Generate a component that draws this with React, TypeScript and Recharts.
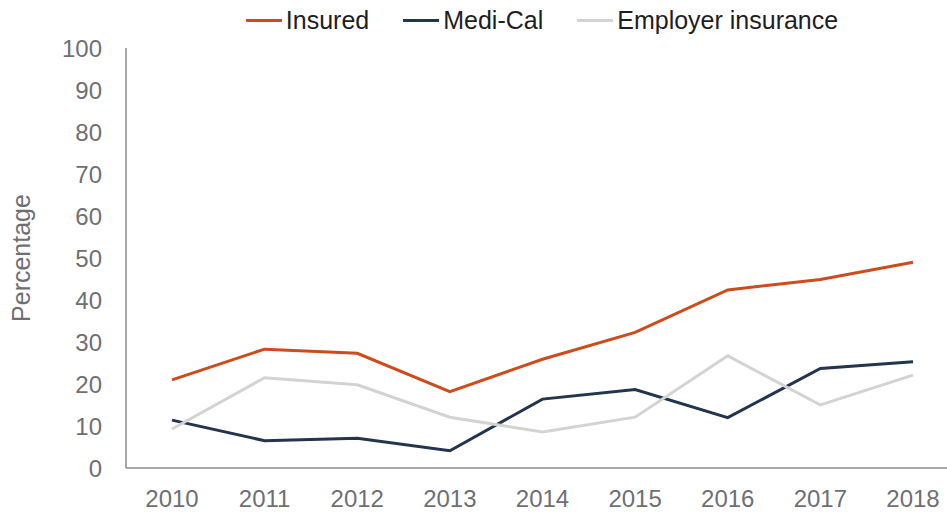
import { LineChart, Line, XAxis, YAxis, Legend } from "recharts";

const years = ["2010", "2011", "2012", "2013", "2014", "2015", "2016", "2017", "2018"];
const insured = [21.0, 28.3, 27.3, 18.2, 25.9, 32.3, 42.4, 44.9, 49.0];
const mediCal = [11.4, 6.5, 7.1, 4.1, 16.4, 18.7, 12.0, 23.7, 25.3];
const employer = [9.3, 21.5, 19.8, 12.1, 8.6, 12.1, 26.7, 15.0, 22.1];
const seriesNames = ["Insured", "Medi-Cal", "Employer insurance"];
const yTicks = [0, 10, 20, 30, 40, 50, 60, 70, 80, 90, 100];

const data = years.map((year, i) => ({
  year,
  insured: insured[i],
  mediCal: mediCal[i],
  employer: employer[i],
}));

const font = '"Liberation Sans", Arial, sans-serif';
const tickStyle = { fill: "#6f6f72", fontSize: 24, fontFamily: font };
const axisStroke = "#8a8a8a";

function LegendContent({ payload }: any) {
  // keep the series order, not alphabetical
  const items = [...(payload || [])].sort((a: any, b: any) => seriesNames.indexOf(a.value) - seriesNames.indexOf(b.value));
  return (
    <div style={{ display: "flex", justifyContent: "center", paddingLeft: 11, fontFamily: font, fontSize: 25, lineHeight: "28px", color: "#1e1e1e" }}>
      {items.map((p: any, i: number) => (
        <div key={p.value} style={{ display: "flex", alignItems: "center", marginLeft: i === 0 ? 0 : 34 }}>
          <span style={{ display: "inline-block", width: 36, height: 3, background: p.color, marginRight: 4 }} />
          <span>{p.value}</span>
        </div>
      ))}
    </div>
  );
}

function YLabel({ viewBox }: any) {
  const cx = viewBox.x + 21;
  const cy = viewBox.y + viewBox.height / 2;
  return (
    <text x={cx} y={cy} transform={`rotate(-90, ${cx}, ${cy})`} textAnchor="middle" dominantBaseline="central" fill="#6f6f72" fontSize={25} fontFamily={font}>
      Percentage
    </text>
  );
}

export default function App() {
  return (
    <div style={{ position: "absolute", left: 0, top: 0, background: "#fff" }}>
      <LineChart width={947} height={512} data={data} margin={{ top: 20, right: 0, bottom: 0, left: 0 }}>
        <XAxis
          dataKey="year"
          height={44}
          padding={{ left: 46, right: 34 }}
          tick={tickStyle}
          tickLine={false}
          tickSize={0}
          tickMargin={22}
          stroke={axisStroke}
          strokeWidth={1.5}
          interval={0}
        />
        <YAxis
          width={126}
          domain={[0, 100]}
          ticks={yTicks}
          tick={tickStyle}
          tickLine={false}
          tickSize={0}
          tickMargin={24}
          stroke={axisStroke}
          strokeWidth={1.5}
          label={<YLabel />}
        />
        <Legend verticalAlign="top" height={28} content={<LegendContent />} wrapperStyle={{ top: 6, left: 126, width: 821 }} />
        <Line dataKey="insured" name="Insured" stroke="#ce4b1b" strokeWidth={3} dot={false} isAnimationActive={false} />
        <Line dataKey="mediCal" name="Medi-Cal" stroke="#23344f" strokeWidth={3} dot={false} isAnimationActive={false} />
        <Line dataKey="employer" name="Employer insurance" stroke="#d3d3d3" strokeWidth={3} dot={false} isAnimationActive={false} />
      </LineChart>
    </div>
  );
}
